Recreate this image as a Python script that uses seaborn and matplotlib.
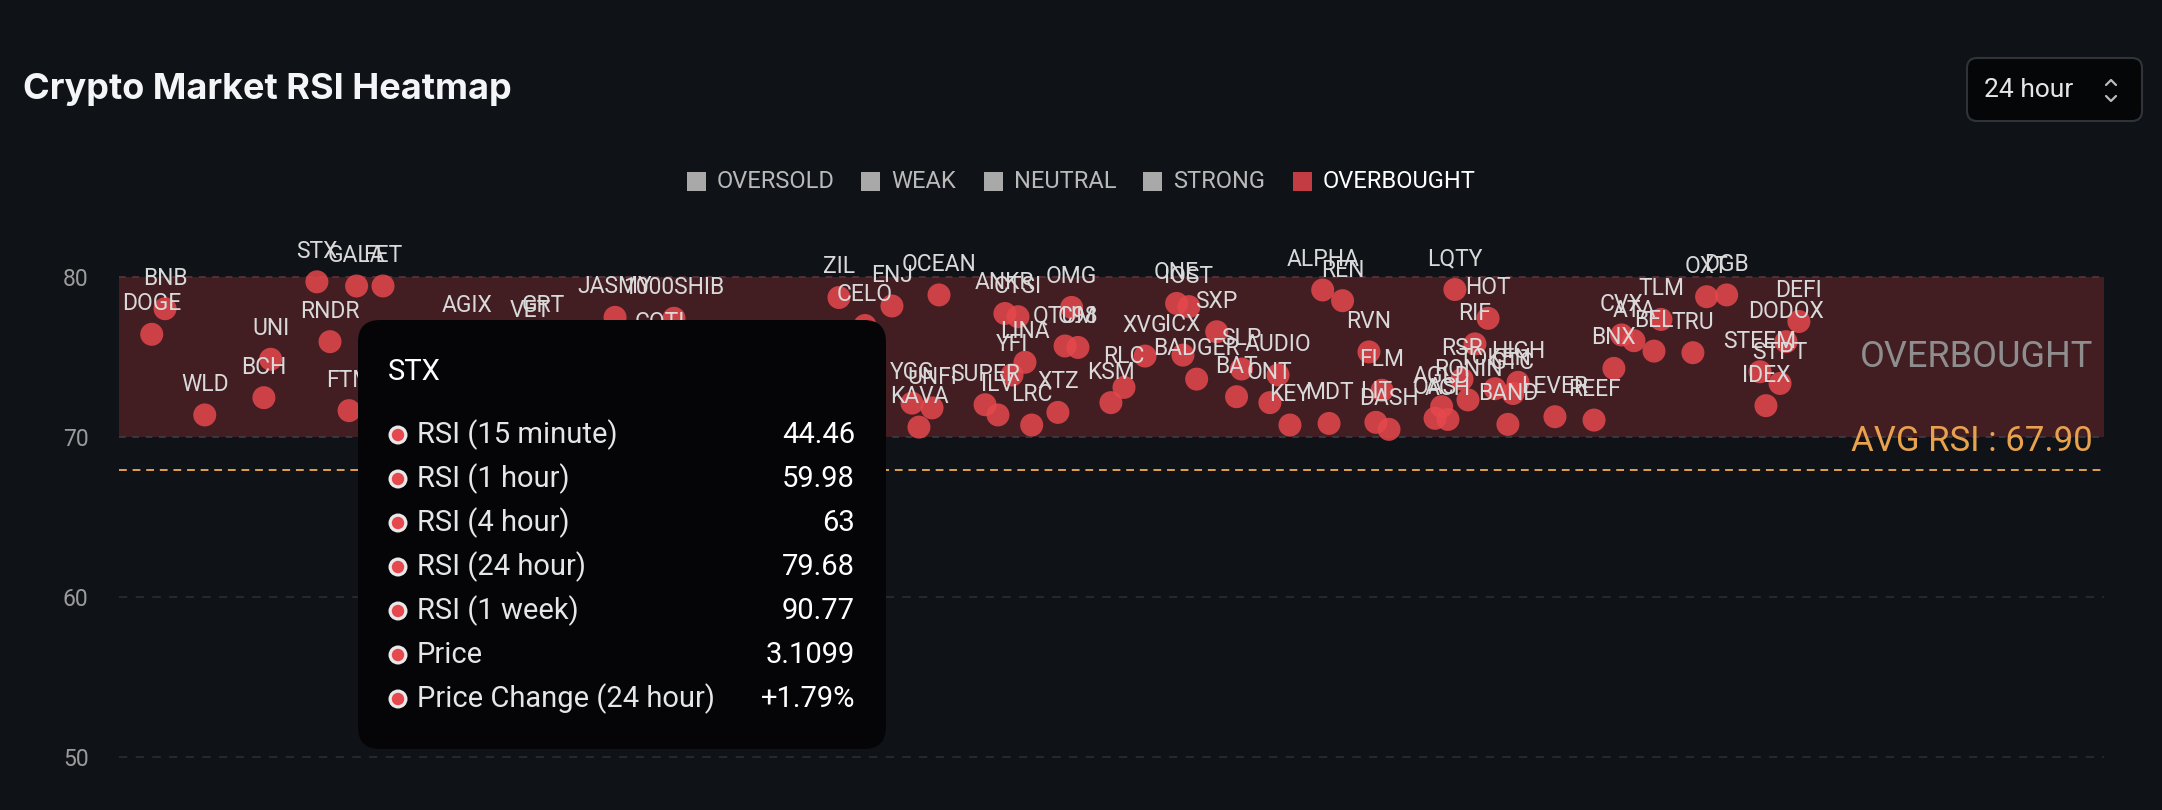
import numpy as np
import pandas as pd
import seaborn as sns
import matplotlib.pyplot as plt
from matplotlib.patches import FancyBboxPatch, Rectangle, Circle

# coins in the overbought band (24 hour RSI), spread = horizontal jitter 0-100
coins = ["DOGE", "BNB", "WLD", "BCH", "UNI", "STX", "RNDR", "FTM", "GALA", "FET",
         "AGIX", "VET", "GRT", "JASMY", "COTI", "1000SHIB", "ZIL", "CELO", "ENJ", "YGG",
         "KAVA", "UNFI", "OCEAN", "SUPER", "ILV", "ANKR", "YFI", "CTSI", "LINA", "LRC",
         "XTZ", "QTUM", "OMG", "C98", "KSM", "RLC", "XVG", "ONE", "ICX", "IOST",
         "BADGER", "SXP", "BAT", "SLP", "ONT", "AUDIO", "KEY", "ALPHA", "MDT", "REN",
         "RVN", "LIT", "FLM", "DASH", "OAS", "AGLD", "ACH", "LQTY", "RSR", "RONIN",
         "RIF", "HOT", "TOKEN", "BAND", "GTC", "HIGH", "LEVER", "REEF", "BNX", "CVX",
         "ATA", "BEL", "TLM", "TRU", "OXT", "DGB", "STEEM", "IDEX", "STPT", "DODOX",
         "DEFI"]
spread = [1.65, 2.32, 4.32, 7.30, 7.64, 9.97, 10.63, 11.59, 11.97, 13.30,
          17.53, 20.71, 21.36, 24.99, 27.25, 27.96, 36.27, 37.58, 38.94, 39.95,
          40.30, 40.96, 41.31, 43.63, 44.28, 44.63, 44.99, 45.29, 45.64, 45.98,
          47.30, 47.66, 47.99, 48.31, 49.97, 50.63, 51.69, 53.28, 53.60, 53.90,
          54.29, 55.30, 56.30, 56.55, 57.98, 58.39, 58.99, 60.64, 60.96, 61.64,
          62.97, 63.32, 63.63, 63.98, 66.30, 66.63, 66.95, 67.30, 67.66, 67.96,
          68.31, 68.97, 69.32, 69.97, 70.23, 70.48, 72.34, 74.31, 75.31, 75.70,
          76.32, 77.33, 77.68, 79.29, 79.98, 80.99, 82.67, 82.97, 83.68, 83.98,
          84.63]
rsi_24h = [76.4, 78.0, 71.36, 72.44, 74.84, 79.68, 75.94, 71.63, 79.42, 79.42,
           76.3, 76.0, 76.3, 77.46, 75.2, 77.4, 78.7, 76.95, 78.17, 72.1,
           70.6, 71.8, 78.86, 72.0, 71.36, 77.7, 73.86, 77.5, 74.65, 70.73,
           71.52, 75.67, 78.08, 75.58, 72.13, 73.08, 75.04, 78.33, 75.1, 78.13,
           73.6, 76.56, 72.5, 74.23, 72.13, 73.86, 70.73, 79.17, 70.83, 78.5,
           75.3, 70.9, 72.9, 70.46, 71.15, 71.88, 71.08, 79.2, 73.6, 72.3,
           75.8, 77.4, 73.0, 70.77, 72.7, 73.4, 71.25, 71.04, 74.27, 76.36,
           76.0, 75.35, 77.33, 75.25, 78.75, 78.86, 74.06, 71.94, 73.33, 75.94,
           77.2]
avg_rsi = 67.90
y_ticks = [50, 60, 70, 80]

legend_names = ["OVERSOLD", "WEAK", "NEUTRAL", "STRONG", "OVERBOUGHT"]
legend_colors = ["#a9a9a9", "#a9a9a9", "#a9a9a9", "#a9a9a9", "#c43c43"]

tip_coin = "STX"
tip_labels = ["RSI (15 minute)", "RSI (1 hour)", "RSI (4 hour)", "RSI (24 hour)",
              "RSI (1 week)", "Price", "Price Change (24 hour)"]
tip_values = ["44.46", "59.98", "63", "79.68", "90.77", "3.1099", "+1.79%"]

BG = "#0f1217"
W, H = 2162, 810

sns.set_style("dark", rc={"axes.facecolor": BG, "figure.facecolor": BG})
plt.rcParams["font.family"] = ["Roboto", "DejaVu Sans"]

fig = plt.figure(figsize=(W / 100, H / 100), dpi=100, facecolor=BG)
ax = fig.add_axes([119 / W, 0.0, (2104 - 119) / W, (H - 180.7) / H])
ax.set_xlim(0, 100)
ax.set_ylim(46.67, 86)
for s in ax.spines.values():
    s.set_visible(False)
ax.grid(False)

# overbought band and guide lines
ax.axhspan(70, 80, color="#421e23", lw=0, zorder=0)
ax.axhline(80, color="#5e3439", lw=1.2, ls=(0, (4, 4)), zorder=1)
ax.axhline(70, color="#3a3e45", lw=1.2, ls=(0, (4, 4)), zorder=1)
for v in (60, 50):
    ax.axhline(v, color="#2a2e35", lw=1.2, ls=(0, (5, 5)), zorder=1)
ax.axhline(avg_rsi, color="#e3a04e", lw=1.4, ls=(0, (4, 3)), zorder=2)

df = pd.DataFrame({"coin": coins, "spread": spread, "rsi": rsi_24h})
sns.scatterplot(data=df, x="spread", y="rsi", s=274, color="#e5484d", alpha=0.85,
                edgecolor="none", legend=False, ax=ax, zorder=3)
for row in df.itertuples():
    ax.annotate(row.coin, (row.spread, row.rsi), xytext=(0, 22), textcoords="offset points",
                ha="center", va="center", fontsize=16.5, color="#d9d9d9", zorder=4)

ax.set_xlabel("")
ax.set_ylabel("")
ax.set_xticks([])
ax.set_yticks(y_ticks)
ax.tick_params(axis="y", length=0, pad=22, labelsize=16.5, labelcolor="#9b9b9b")

ax.text(99.45, 75.0, "OVERBOUGHT", ha="right", va="center", fontsize=26, color="#8e8e8e", zorder=2)
ax.text(99.45, 69.73, f"AVG RSI : {avg_rsi:.2f}", ha="right", va="center", fontsize=25,
        color="#e8a24e", zorder=2)

# overlay in pixel units for title, legend, selector and tooltip
ov = fig.add_axes([0, 0, 1, 1], facecolor="none")
ov.set_xlim(0, W)
ov.set_ylim(H, 0)
ov.axis("off")

ov.text(23, 90, "Crypto Market RSI Heatmap", fontsize=26, fontweight="bold",
        family=["Inter", "DejaVu Sans"], color="#f4f5f7", va="center", ha="left")

sq_x = [687, 861, 984, 1143, 1293]
for x0, name, col in zip(sq_x, legend_names, legend_colors):
    ov.add_patch(Rectangle((x0, 172), 19, 19, color=col, lw=0))
    ov.text(x0 + 30, 181.5, name, va="center", ha="left", fontsize=17,
            color="#ffffff" if name == "OVERBOUGHT" else "#b9b9b9")

# time frame selector
ov.add_patch(FancyBboxPatch((1967, 58), 175, 63, boxstyle="round,pad=0,rounding_size=10",
                            fc="#050608", ec="#30343a", lw=1.5))
ov.text(1984, 90, "24 hour", fontsize=19, color="#e4e6ea", va="center", ha="left")
ov.plot([2106, 2111, 2116], [85, 80, 85], color="#b8bcc2", lw=1.6)
ov.plot([2106, 2111, 2116], [96, 101, 96], color="#b8bcc2", lw=1.6)

# hover tooltip
ov.add_patch(FancyBboxPatch((358, 320), 528, 429, boxstyle="round,pad=0,rounding_size=22",
                            fc="#050507", ec="none"))
ov.text(388, 372, tip_coin, fontsize=21, color="#ffffff", va="center", ha="left")
for i, (lab, val) in enumerate(zip(tip_labels, tip_values)):
    y = 435 + 44 * i
    ov.add_patch(Circle((398, y), 9.5, fc="#e9e9ec", ec="none"))
    ov.add_patch(Circle((398, y), 6.2, fc="#e5484d", ec="none"))
    ov.text(417, y, lab, fontsize=21, color="#e4e6ea", va="center", ha="left")
    ov.text(855, y, val, fontsize=21, color="#ffffff", va="center", ha="right")

fig.savefig("out.png", dpi=100, facecolor=BG)
